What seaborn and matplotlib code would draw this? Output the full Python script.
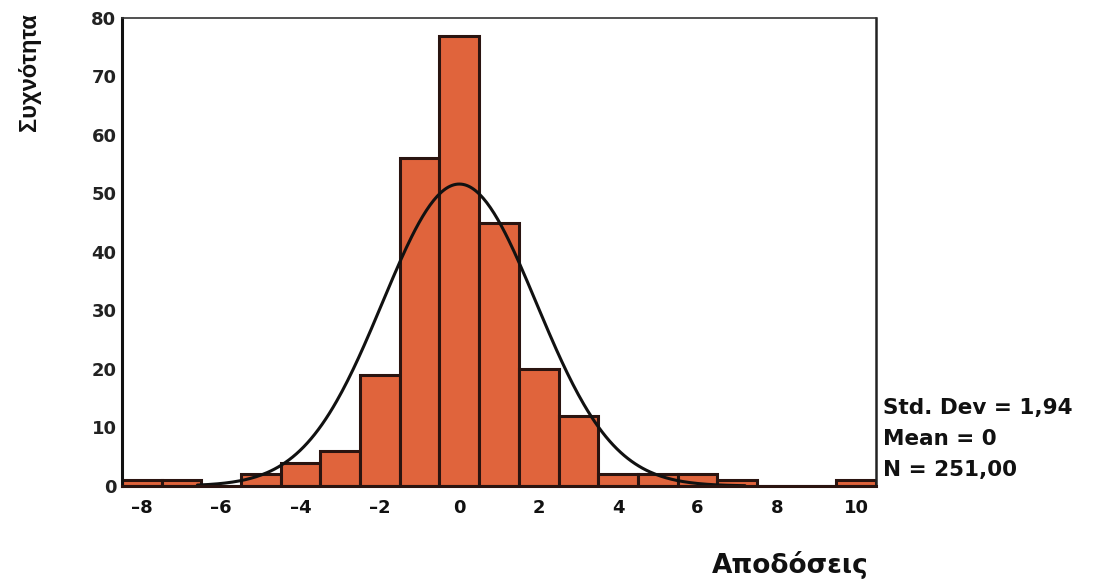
import numpy as np
import pandas as pd
import matplotlib
matplotlib.use("Agg")
import matplotlib.pyplot as plt
import seaborn as sns

# Data (bin centers and counts)
bin_centers = [-8, -7, -6, -5, -4, -3, -2, -1, 0, 1, 2, 3, 4, 5, 6, 7, 8, 9, 10]
counts      = [1, 1, 0, 2, 4, 6, 19, 56, 77, 45, 20, 12, 2, 2, 2, 1, 0, 0, 1]
x_ticks = [-8, -6, -4, -2, 0, 2, 4, 6, 8, 10]
x_tick_labels = ["–8", "–6", "–4", "–2", "0", "2", "4", "6", "8", "10"]
y_ticks = [0, 10, 20, 30, 40, 50, 60, 70, 80]
std_dev = 1.94
mean_val = 0.0
n_total = 251
stats_lines = ["Std. Dev = 1,94", "Mean = 0", "N = 251,00"]
x_label = "Αποδόσεις"
y_label = "Συχνότητα"

sns.set_style("white")
plt.rcParams['font.family'] = ['DejaVu Sans']

fig = plt.figure(figsize=(11.18, 5.79), dpi=100)
ax = fig.add_axes([122/1118, 1-486/579, (876-122)/1118, (486-18)/579])

df = pd.DataFrame({"x": bin_centers, "w": counts})
sns.histplot(data=df, x="x", weights="w", discrete=True, ax=ax,
             color="#E0643C", alpha=1.0, edgecolor="#2a1410", linewidth=2.2)

# fitted normal curve
xs = np.linspace(-6.6, 7.2, 300)
ys = n_total * 1.0 / (std_dev * np.sqrt(2*np.pi)) * np.exp(-0.5*((xs-mean_val)/std_dev)**2)
sns.lineplot(x=xs, y=ys, ax=ax, color="#111111", linewidth=2.2)

ax.set_xlim(-8.5, 10.5)
ax.set_ylim(0, 80)
ax.set_xticks(x_ticks)
ax.set_xticklabels(x_tick_labels, fontsize=13, fontweight="bold", color="#111111")
ax.set_xticks(bin_centers, minor=True)
ax.set_yticks(y_ticks)
ax.set_yticklabels([str(t) for t in y_ticks], fontsize=13, fontweight="bold", color="#222222")
ax.tick_params(axis="x", which="both", direction="out", length=3.5, width=5.5,
               color="#8a8a8a", pad=6)
ax.tick_params(axis="y", which="major", direction="out", length=3, width=2.5,
               color="#333333", pad=1)
ax.set_xlabel("")
ax.set_ylabel("")

ax.spines["left"].set_linewidth(2.2)
ax.spines["left"].set_color("#111111")
ax.spines["bottom"].set_linewidth(2.2)
ax.spines["bottom"].set_color("#2a1410")
ax.spines["top"].set_linewidth(1.2)
ax.spines["top"].set_color("#333333")
ax.spines["right"].set_linewidth(1.8)
ax.spines["right"].set_color("#222222")

fig.text(29/1118, 1-72/579, y_label, rotation=90, ha="center", va="center",
         fontsize=17, fontweight="bold", color="#111111",
         family=['Liberation Sans', 'DejaVu Sans'])
fig.text(790/1118, 1-573/579, x_label, ha="center", va="baseline",
         fontsize=19, fontweight="bold", color="#111111")
for i, line in enumerate(stats_lines):
    fig.text(883/1118, 1-(408+31*i)/579, line, ha="left", va="center",
             fontsize=15.5, fontweight="bold", color="#111111")

fig.savefig("out.png", dpi=100)
